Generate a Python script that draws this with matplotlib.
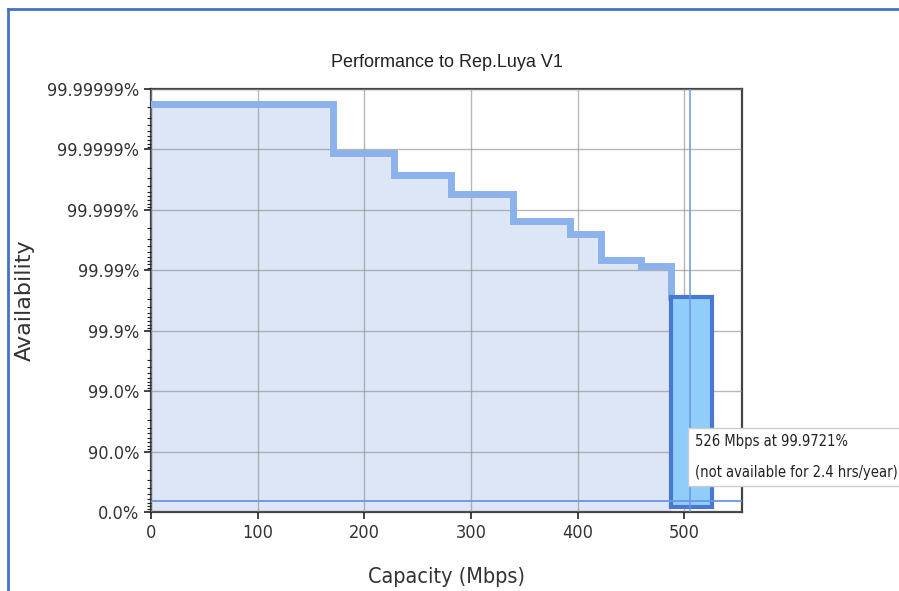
import numpy as np
import matplotlib.pyplot as plt
from matplotlib import font_manager
from matplotlib.lines import Line2D
from matplotlib.ticker import FixedLocator

# capacity breakpoints (Mbps) and availability (%) of each step
cap_edges = [0, 171, 228, 281, 339, 393, 422, 459, 487]
avail_pct = [99.9999822, 99.999885, 99.999737, 99.99945, 99.99849,
             99.99749, 99.99324, 99.9915]

# selected point
sel_cap = 526
sel_avail = 99.9721
sel_hours = 2.4
marker_cap = 505
floor_avail = 35.0

tick_labels = ["0.0%", "90.0%", "99.0%", "99.9%", "99.99%", "99.999%",
               "99.9999%", "99.99999%"]


def nines(a):
    # availability in percent -> number of nines
    return -np.log10(1 - np.asarray(a) / 100.0)


# look for a narrow face, otherwise fall back to Liberation Sans
narrow = None
for f in font_manager.fontManager.ttflist:
    if ("Narrow" in f.name or "Condensed" in f.name
            or f.stretch in ("condensed", "semi-condensed")) and f.style == "normal":
        narrow = dict(family=f.name, stretch=f.stretch)
        break
if narrow is None:
    narrow = dict(family="Liberation Sans", stretch="normal")
    tsize = 11.5
else:
    tsize = 13

plt.rcParams['font.family'] = [narrow["family"], 'DejaVu Sans']
plt.rcParams['font.stretch'] = narrow["stretch"]

fig = plt.figure(figsize=(8.99, 5.91), dpi=100)
ax = fig.add_axes([0.168, 0.1337, 0.6574, 0.7157])

xs = np.array(cap_edges)
ys = nines(avail_pct)
top = nines(sel_avail)
ys_step = np.append(ys, ys[-1])

ax.fill_between(xs, 0, ys_step, step="post", color="#dce6f7", zorder=1, linewidth=0)
ax.plot(np.append(xs, xs[-1]), np.append(ys_step, top), drawstyle="steps-post",
        color="#8cb2ec", linewidth=5, solid_joinstyle="miter", zorder=3)

# selected capacity bar
ax.bar(cap_edges[-1], top - 0.08, bottom=0.08, width=sel_cap - cap_edges[-1],
       align="edge", color="#91cdfb", edgecolor="#4a78d0", linewidth=3, zorder=4)

ax.axhline(nines(floor_avail), color="#6a97e0", linewidth=1.3, zorder=5)
ax.axvline(marker_cap, color="#6a97e0", linewidth=1.1, zorder=5)

ax.set_xlim(0, 554)
ax.set_ylim(0, 7)
ax.set_xticks([0, 100, 200, 300, 400, 500])
ax.set_yticks(range(8))
ax.set_yticklabels(tick_labels)
minor = [d + 1 - np.log10(k) for d in range(7) for k in range(2, 10)]
ax.yaxis.set_minor_locator(FixedLocator(minor))
ax.tick_params(axis="both", which="major", labelsize=tsize, length=5, width=1.2,
               colors="#222222", labelcolor="#333333")
ax.tick_params(axis="y", which="minor", length=3, width=0.8, colors="#222222")

ax.grid(True, color="#8a8a8a", linewidth=1, alpha=0.6)
ax.set_axisbelow(False)
for s in ax.spines.values():
    s.set_linewidth(1.6)
    s.set_color("#444444")

ax.set_title("Performance to Rep.Luya V1", family="Liberation Sans",
             stretch="normal", fontsize=13, color="#222222", pad=16)
ax.set_ylabel("Availability", family="DejaVu Sans", stretch="normal",
              fontsize=16, color="#333333")
ax.yaxis.set_label_coords(-0.196, 0.5)
ax.set_xlabel("Capacity (Mbps)", fontsize=tsize + 2.5, color="#333333", labelpad=18)

ax.text(509.5, 0.91, "%d Mbps at %.4f%%\n(not available for %.1f hrs/year)"
        % (sel_cap, sel_avail, sel_hours),
        fontsize=10.5, color="#222222", va="center", ha="left", linespacing=2.3,
        zorder=6, clip_on=False,
        bbox=dict(boxstyle="square,pad=0.45", facecolor="white",
                  edgecolor="#cccccc", linewidth=1))

# screenshot frame
fig.add_artist(Line2D([0.009, 1], [0.985, 0.985], transform=fig.transFigure,
                      color="#4472c4", linewidth=2))
fig.add_artist(Line2D([0.009, 0.009], [0, 0.985], transform=fig.transFigure,
                      color="#4472c4", linewidth=2))

fig.savefig("out.png", dpi=100)
